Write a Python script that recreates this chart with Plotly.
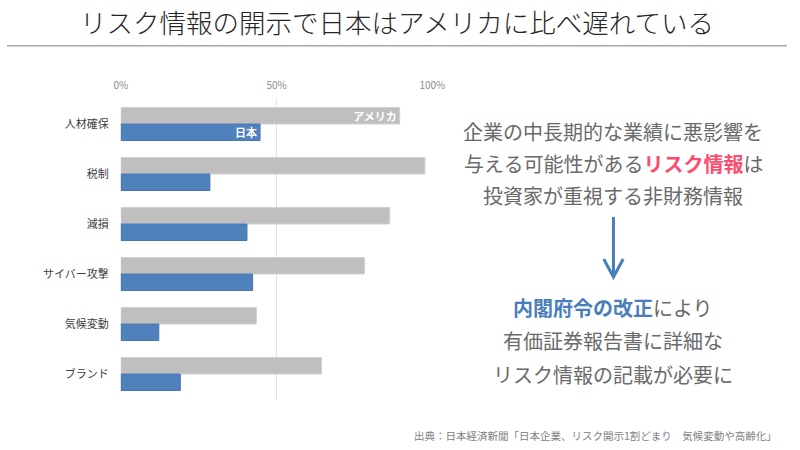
import plotly.graph_objects as go

W, H = 800, 450

categories = ["人材確保", "税制", "減損", "サイバー攻撃", "気候変動", "ブランド"]
usa_values = [89.5, 97.6, 86.3, 78.2, 43.5, 64.4]
japan_values = [44.7, 28.6, 40.5, 42.3, 12.2, 19.1]
usa_labels = ["アメリカ", "", "", "", "", ""]
japan_labels = ["日本", "", "", "", "", ""]
tick_vals = [0, 50, 100]
tick_text = ["0%", "50%", "100%"]

FONT = "Noto Sans CJK JP"

def px(x):
    return x / W

def py(y):
    return 1 - y / H

fig = go.Figure()
fig.add_trace(go.Bar(
    y=categories, x=usa_values, orientation="h", name="アメリカ",
    marker=dict(color="#bfbfbf", line=dict(color="#d0d0d0", width=1)),
    text=usa_labels, textposition="inside", insidetextanchor="end",
    textfont=dict(color="white", size=11, family=FONT, weight="bold"),
    cliponaxis=False, hoverinfo="skip",
))
fig.add_trace(go.Bar(
    y=categories, x=japan_values, orientation="h", name="日本",
    marker=dict(color="#4f81bd", line=dict(color="#4a76ad", width=1)),
    text=japan_labels, textposition="inside", insidetextanchor="end",
    textfont=dict(color="white", size=11, family=FONT, weight="bold"),
    cliponaxis=False, hoverinfo="skip",
))

fig.update_layout(
    width=W, height=H,
    margin=dict(l=0, r=0, t=0, b=0),
    paper_bgcolor="white", plot_bgcolor="white",
    showlegend=False,
    barmode="group", bargap=0.34, bargroupgap=0,
    font=dict(family=FONT, color="#404040"),
    uniformtext=dict(mode="show", minsize=8),
    xaxis=dict(
        domain=[px(116.7), px(436.3)], range=[0, 100], side="top",
        tickvals=tick_vals, ticktext=tick_text,
        tickfont=dict(size=10, color="#8c8c8c"),
        showgrid=True, gridcolor="#e0e0e0", gridwidth=1,
        zeroline=False, showline=False, ticks="", fixedrange=True,
        ticklabelstandoff=7,
    ),
    yaxis=dict(
        domain=[py(399), py(99)], autorange="reversed",
        tickfont=dict(size=11, color="#404040"),
        showgrid=False, zeroline=False, showline=False, ticks="",
        ticklabelstandoff=11, fixedrange=True,
    ),
)

# Title and separator line
fig.add_annotation(
    x=0.5, y=py(22), xref="paper", yref="paper",
    text="リスク情報の開示で日本はアメリカに比べ遅れている",
    showarrow=False, font=dict(size=26.5, color="#262626", family=FONT, weight=300),
    xanchor="center", yanchor="middle",
)
fig.add_shape(type="line", xref="paper", yref="paper",
              x0=0, x1=1, y0=py(45.7), y1=py(45.7),
              line=dict(color="#a6a6a6", width=1.5))

grey = "#6a6a6a"
pink = "#ff4b6e"
blue = "#4a7ebb"

right_lines = [
    (131.5, "企業の中長期的な業績に悪影響を"),
    (163, f"与える可能性がある<b><span style='color:{pink}'>リスク情報</span></b>は"),
    (195, "投資家が重視する非財務情報"),
    (307, f"<b><span style='color:{blue}'>内閣府令の改正</span></b>により"),
    (340.5, "有価証券報告書に詳細な"),
    (374, "リスク情報の記載が必要に"),
]
for y, t in right_lines:
    fig.add_annotation(
        x=px(622), y=py(y), xref="paper", yref="paper", text=t,
        showarrow=False, font=dict(size=20, color=grey, family=FONT),
        xanchor="center", yanchor="middle",
    )

# Arrow
fig.add_shape(type="line", xref="paper", yref="paper",
              x0=px(622), x1=px(622), y0=py(217), y1=py(276),
              line=dict(color=blue, width=3))
fig.add_shape(type="path", xref="paper", yref="paper",
              path=f"M {px(612)} {py(259)} L {px(622)} {py(277)} L {px(632)} {py(259)}",
              line=dict(color=blue, width=3))

# Source
fig.add_annotation(
    x=px(792), y=py(435), xref="paper", yref="paper",
    text="出典：日本経済新聞「日本企業、リスク開示1割どまり　気候変動や高齢化」",
    showarrow=False, font=dict(size=10.5, color="#7f7f7f", family=FONT),
    xanchor="right", yanchor="middle",
)

fig.write_html(
    "out.html",
    config={"displayModeBar": False, "staticPlot": True},
    post_script="document.body.style.margin='0';document.body.style.overflow='hidden';",
)
